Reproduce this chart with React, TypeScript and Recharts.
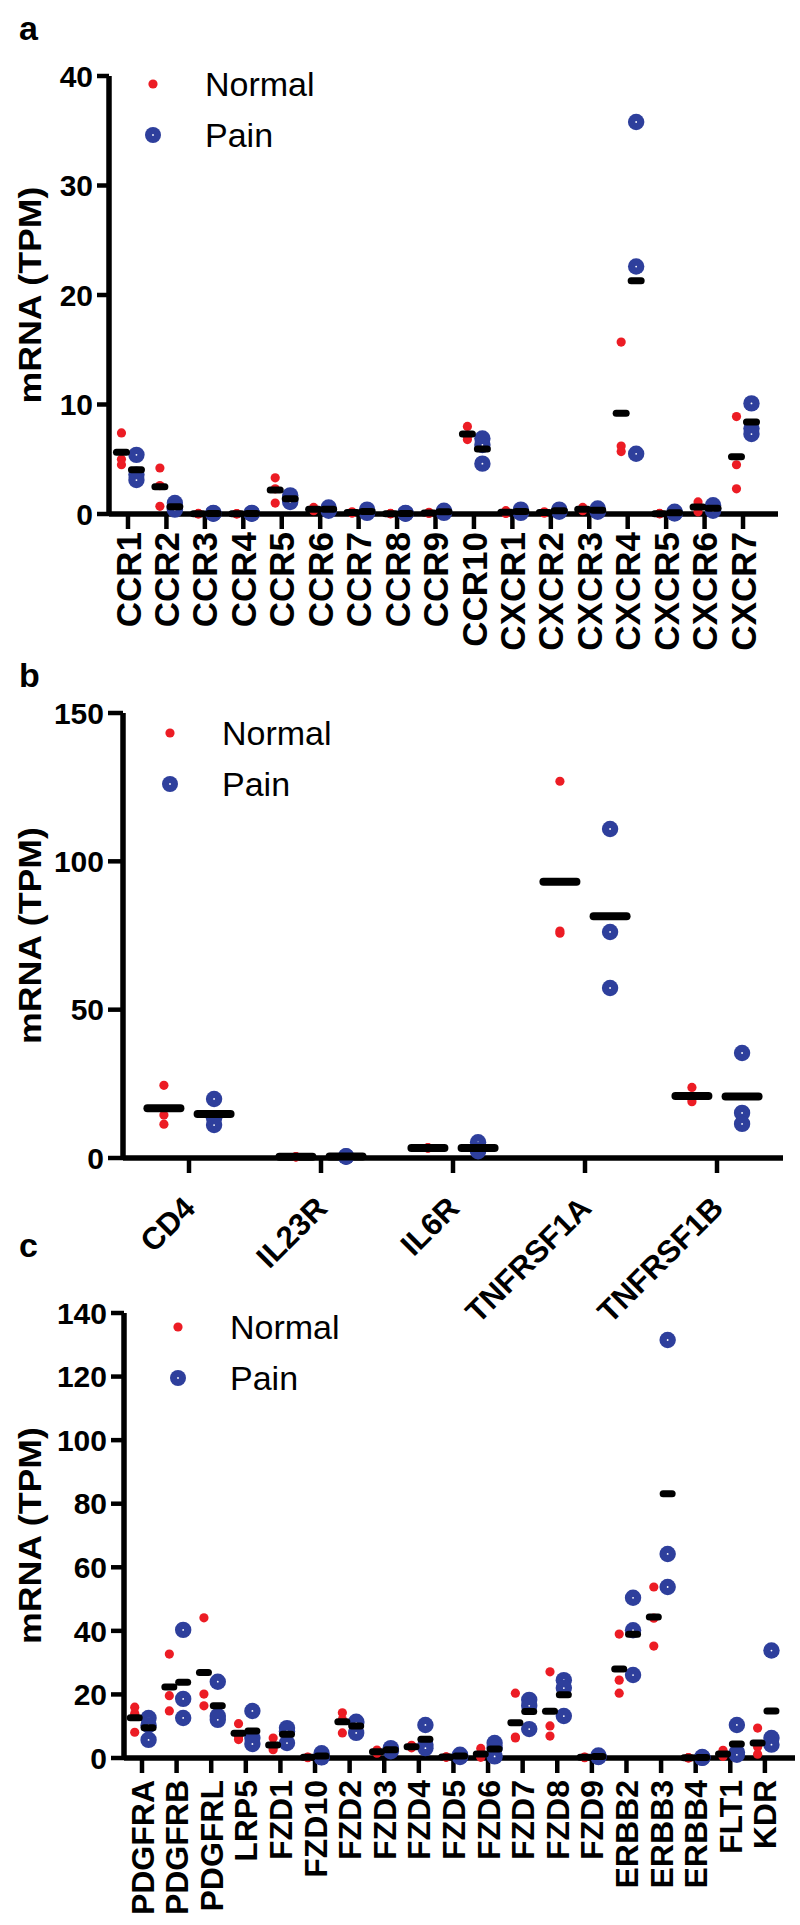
import React from 'react';
import { ScatterChart, Scatter, XAxis, YAxis, Legend } from 'recharts';

const FONT = '"Liberation Sans", Arial, Helvetica, sans-serif';
const RED = '#ec1c24';
const BLUE = '#2e3f9c';

// ---------- Panel a: chemokine receptors ----------
const chemokineGenes = [
  'CCR1', 'CCR2', 'CCR3', 'CCR4', 'CCR5', 'CCR6', 'CCR7', 'CCR8', 'CCR9', 'CCR10',
  'CXCR1', 'CXCR2', 'CXCR3', 'CXCR4', 'CXCR5', 'CXCR6', 'CXCR7',
];
const chemokineNormal = [
  [7.4, 5.0, 4.5],
  [4.2, 2.6, 0.7],
  [0.05, 0.02, 0.0],
  [0.04, 0.02, 0.0],
  [3.3, 2.3, 1.0],
  [0.6, 0.4, 0.3],
  [0.2, 0.1, 0.1],
  [0.05, 0.03, 0.02],
  [0.15, 0.1, 0.05],
  [8.0, 7.1, 6.8],
  [0.3, 0.1, 0.05],
  [0.2, 0.1, 0.1],
  [0.6, 0.4, 0.3],
  [15.7, 6.2, 5.7],
  [0.05, 0.03, 0.02],
  [1.1, 0.6, 0.2],
  [8.9, 4.5, 2.3],
];
const chemokinePain = [
  [5.4, 3.6, 3.1],
  [1.0, 0.6, 0.4],
  [0.1, 0.05, 0.02],
  [0.1, 0.05, 0.02],
  [1.7, 1.4, 1.1],
  [0.6, 0.4, 0.3],
  [0.4, 0.2, 0.1],
  [0.1, 0.05, 0.02],
  [0.3, 0.2, 0.1],
  [6.9, 6.3, 4.6],
  [0.4, 0.2, 0.1],
  [0.4, 0.3, 0.2],
  [0.5, 0.3, 0.2],
  [35.8, 22.6, 5.5],
  [0.2, 0.1, 0.05],
  [0.8, 0.5, 0.3],
  [10.1, 7.8, 7.3],
];
const chemokineTicks = [0, 10, 20, 30, 40];

// ---------- Panel b: cytokine receptors ----------
const cytokineGenes = ['CD4', 'IL23R', 'IL6R', 'TNFRSF1A', 'TNFRSF1B'];
const cytokineNormal = [
  [24.5, 14.5, 11.4],
  [0.5, 0.4, 0.3],
  [3.5, 3.4, 3.3],
  [127.0, 76.5, 75.8],
  [23.8, 20.0, 19.0],
];
const cytokinePain = [
  [19.9, 13.4, 11.1],
  [0.6, 0.5, 0.4],
  [5.3, 2.6, 2.3],
  [110.9, 76.2, 57.3],
  [35.4, 15.2, 11.5],
];
const cytokineTicks = [0, 50, 100, 150];

// ---------- Panel c: growth factor receptors ----------
const growthGenes = [
  'PDGFRA', 'PDGFRB', 'PDGFRL', 'LRP5', 'FZD1', 'FZD10', 'FZD2', 'FZD3', 'FZD4', 'FZD5',
  'FZD6', 'FZD7', 'FZD8', 'FZD9', 'ERBB2', 'ERBB3', 'ERBB4', 'FLT1', 'KDR',
];
const growthNormal = [
  [16.0, 14.0, 8.1],
  [32.7, 19.6, 14.8],
  [44.1, 20.1, 16.4],
  [10.8, 6.8, 5.8],
  [6.3, 3.4, 2.6],
  [0.3, 0.2, 0.1],
  [14.2, 12.1, 7.9],
  [2.5, 2.0, 1.5],
  [4.0, 3.5, 3.2],
  [0.4, 0.3, 0.2],
  [3.0, 0.5, 0.2],
  [20.4, 6.6, 6.3],
  [27.1, 10.1, 6.9],
  [0.3, 0.2, 0.1],
  [39.0, 24.5, 20.4],
  [53.8, 44.0, 35.2],
  [0.1, 0.05, 0.02],
  [2.4, 0.8, 0.5],
  [9.4, 3.5, 1.2],
];
const growthPain = [
  [12.6, 10.3, 5.7],
  [40.3, 18.6, 12.6],
  [24.0, 13.2, 12.0],
  [14.8, 6.3, 4.4],
  [9.4, 8.4, 4.7],
  [1.5, 0.3, 0.2],
  [11.4, 11.0, 7.9],
  [3.1, 2.6, 2.1],
  [10.4, 4.2, 3.1],
  [1.0, 0.5, 0.3],
  [4.7, 3.2, 0.5],
  [18.3, 16.4, 9.1],
  [24.5, 22.0, 13.2],
  [0.8, 0.4, 0.3],
  [50.4, 40.2, 26.1],
  [131.5, 64.2, 53.8],
  [0.3, 0.1, 0.05],
  [10.4, 1.8, 1.0],
  [33.8, 6.3, 4.2],
];
const growthTicks = [0, 20, 40, 60, 80, 100, 120, 140];

const seriesNames = ['Normal', 'Pain'];

// ---------- helpers ----------
const buildPoints = (groups: number[][], offset: number) =>
  groups.flatMap((vals, i) => vals.map((v) => ({ x: i + offset, y: v })));
const buildMeans = (groups: number[][], offset: number) =>
  groups.map((vals, i) => ({ x: i + offset, y: vals.reduce((a, b) => a + b, 0) / vals.length }));

const RedDot = (props: any) => {
  const { cx, cy } = props;
  if (cx == null || cy == null) return null;
  return <circle cx={cx} cy={cy} r={4.6} fill={RED} />;
};
const BlueDot = (props: any) => {
  const { cx, cy } = props;
  if (cx == null || cy == null) return null;
  return (
    <g>
      <circle cx={cx} cy={cy} r={8.2} fill={BLUE} />
      <circle cx={cx} cy={cy} r={0.9} fill="#ffffff" />
    </g>
  );
};
const makeBar = (w: number, h: number) => (props: any) => {
  const { cx, cy } = props;
  if (cx == null || cy == null) return null;
  return <rect x={cx - w / 2} y={cy - h / 2} width={w} height={h} rx={h / 2} ry={h / 2} fill="#000" />;
};

const YTitle = (props: any) => {
  const vb = props.viewBox || {};
  const cy = (vb.y || 0) + (vb.height || 0) / 2;
  return (
    <text
      x={30}
      y={cy}
      transform={`rotate(-90, 30, ${cy})`}
      textAnchor="middle"
      dy="0.35em"
      fontSize={31}
      fontWeight="bold"
      fontFamily={FONT}
      fill="#000"
      textLength={217}
      lengthAdjust="spacingAndGlyphs"
    >
      mRNA (TPM)
    </text>
  );
};

const LegendBox = () => (
  <div style={{ fontFamily: FONT, fontSize: 34, color: '#000' }}>
    {seriesNames.map((name, k) => (
      <div key={name} style={{ display: 'flex', alignItems: 'center', height: 51, lineHeight: '51px', whiteSpace: 'nowrap' }}>
        <svg width={16} height={18} style={{ display: 'block' }}>
          {k === 0 ? (
            <circle cx={8} cy={9} r={4.6} fill={RED} />
          ) : (
            <g>
              <circle cx={8} cy={9} r={8} fill={BLUE} />
              <circle cx={8} cy={9} r={0.9} fill="#fff" />
            </g>
          )}
        </svg>
        <span style={{ marginLeft: 44 }}>{name}</span>
      </div>
    ))}
  </div>
);

type PanelProps = {
  top: number;
  height: number;
  margin: { top: number; right: number; left: number; bottom: number };
  xAxisHeight: number;
  xDomain: [number, number];
  yDomain: [number, number];
  yTicks: number[];
  yTickSize: number;
  genes: string[];
  normal: number[][];
  pain: number[][];
  offN: number;
  offP: number;
  barW: number;
  barH: number;
  tickRender: (p: any) => any;
  legendLeft: number;
  legendTop: number;
};

const Panel = (p: PanelProps) => {
  const idx = p.genes.map((_, i) => i);
  const Bar = makeBar(p.barW, p.barH);
  return (
    <div style={{ position: 'absolute', left: 0, top: p.top, width: 800, height: p.height, pointerEvents: 'none' }}>
      <ScatterChart width={800} height={p.height} margin={p.margin} style={{ overflow: 'visible' }}>
        <XAxis
          type="number"
          dataKey="x"
          domain={p.xDomain}
          ticks={idx}
          interval={0}
          height={p.xAxisHeight}
          axisLine={{ stroke: '#000', strokeWidth: 5.5 }}
          tickLine={{ stroke: '#000', strokeWidth: 4.5 }}
          tickSize={15}
          tickMargin={2}
          tick={p.tickRender}
        />
        <YAxis
          type="number"
          dataKey="y"
          domain={p.yDomain}
          ticks={p.yTicks}
          interval={0}
          width={60}
          axisLine={{ stroke: '#000', strokeWidth: 5.5 }}
          tickLine={{ stroke: '#000', strokeWidth: 4.5 }}
          tickSize={p.yTickSize}
          tickMargin={4}
          tick={{ fontSize: 30, fontWeight: 'bold', fill: '#000', fontFamily: FONT }}
          label={{ content: (lp: any) => <YTitle {...lp} /> }}
        />
        <Legend
          layout="horizontal"
          verticalAlign="middle"
          align="center"
          wrapperStyle={{ left: p.legendLeft, top: p.legendTop, width: 'auto', height: 'auto' }}
          content={() => <LegendBox />}
        />
        <Scatter name="Normal" data={buildPoints(p.normal, p.offN)} shape={RedDot} isAnimationActive={false} />
        <Scatter name="Pain" data={buildPoints(p.pain, p.offP)} shape={BlueDot} isAnimationActive={false} />
        <Scatter name="Normal mean" data={buildMeans(p.normal, p.offN)} shape={Bar} isAnimationActive={false} legendType="none" />
        <Scatter name="Pain mean" data={buildMeans(p.pain, p.offP)} shape={Bar} isAnimationActive={false} legendType="none" />
      </ScatterChart>
    </div>
  );
};

const verticalTick = (labels: string[], fontSize: number, gap: number) => (props: any) => {
  const { x, y, payload } = props;
  const ty = y + gap;
  return (
    <text
      x={x}
      y={ty}
      transform={`rotate(-90, ${x}, ${ty})`}
      textAnchor="end"
      dy="0.36em"
      fontSize={fontSize}
      fontWeight="bold"
      fontFamily={FONT}
      fill="#000"
    >
      {labels[payload.value]}
    </text>
  );
};

const diagonalTick = (labels: string[], fontSize: number) => (props: any) => {
  const { x, y, payload } = props;
  const ax = x + 8;
  const ay = y + 35;
  return (
    <text
      x={ax}
      y={ay}
      transform={`rotate(-45, ${ax}, ${ay})`}
      textAnchor="end"
      fontSize={fontSize}
      fontWeight="bold"
      fontFamily={FONT}
      fill="#000"
    >
      {labels[payload.value]}
    </text>
  );
};

const letterStyle = (top: number): React.CSSProperties => ({
  position: 'absolute',
  left: 19,
  top,
  fontFamily: FONT,
  fontWeight: 'bold',
  fontSize: 34,
  lineHeight: '34px',
  color: '#000',
});

export default function App() {
  return (
    <div style={{ position: 'absolute', left: 0, top: 0, width: 800, height: 1925, background: '#fff', overflow: 'hidden' }}>
      <Panel
        top={0}
        height={660}
        margin={{ top: 76, right: 22, left: 49, bottom: 0 }}
        xAxisHeight={146}
        xDomain={[-0.494, 16.91]}
        yDomain={[0, 40]}
        yTicks={chemokineTicks}
        yTickSize={12}
        genes={chemokineGenes}
        normal={chemokineNormal}
        pain={chemokinePain}
        offN={-0.17}
        offP={0.22}
        barW={17}
        barH={7}
        tickRender={verticalTick(chemokineGenes, 35, 1)}
        legendLeft={145}
        legendTop={58.5}
      />
      <Panel
        top={660}
        height={690}
        margin={{ top: 53, right: 17, left: 63, bottom: 0 }}
        xAxisHeight={192}
        xDomain={[-0.5, 4.5]}
        yDomain={[0, 150]}
        yTicks={cytokineTicks}
        yTickSize={15}
        genes={cytokineGenes}
        normal={cytokineNormal}
        pain={cytokinePain}
        offN={-0.19}
        offP={0.19}
        barW={41}
        barH={8}
        tickRender={diagonalTick(cytokineGenes, 31)}
        legendLeft={162}
        legendTop={47.5}
      />
      <Panel
        top={1260}
        height={665}
        margin={{ top: 53, right: 5, left: 64, bottom: 0 }}
        xAxisHeight={167}
        xDomain={[-0.52, 18.87]}
        yDomain={[0, 140]}
        yTicks={growthTicks}
        yTickSize={13}
        genes={growthGenes}
        normal={growthNormal}
        pain={growthPain}
        offN={-0.21}
        offP={0.19}
        barW={16}
        barH={7}
        tickRender={verticalTick(growthGenes, 32, 5)}
        legendLeft={170}
        legendTop={41.5}
      />
      <div style={letterStyle(11)}>a</div>
      <div style={letterStyle(658)}>b</div>
      <div style={letterStyle(1228)}>c</div>
    </div>
  );
}
